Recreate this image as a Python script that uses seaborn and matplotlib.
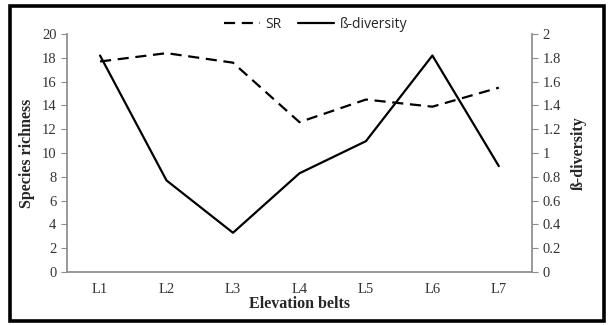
import matplotlib
matplotlib.use("Agg")
import matplotlib.pyplot as plt
import seaborn as sns
import pandas as pd
from matplotlib.patches import Rectangle
from matplotlib.lines import Line2D

# Elevation belts and the two measured series
belts = ["L1", "L2", "L3", "L4", "L5", "L6", "L7"]
species_richness = [17.7, 18.4, 17.6, 12.6, 14.5, 13.9, 15.5]
beta_diversity = [1.82, 0.77, 0.33, 0.83, 1.10, 1.82, 0.89]

left_ticks = [0, 2, 4, 6, 8, 10, 12, 14, 16, 18, 20]
right_ticks = [0, 0.2, 0.4, 0.6, 0.8, 1.0, 1.2, 1.4, 1.6, 1.8, 2.0]
right_tick_labels = ["0", "0.2", "0.4", "0.6", "0.8", "1", "1.2", "1.4", "1.6", "1.8", "2"]

df = pd.DataFrame({"belt": belts, "pos": range(len(belts)),
                   "SR": species_richness, "beta": beta_diversity})

sns.set_theme(style="white")
plt.rcParams["font.family"] = ["Liberation Serif", "DejaVu Serif"]

fig = plt.figure(figsize=(6.13, 3.25), dpi=100)
ax = fig.add_axes([0.109, 0.163, 0.759, 0.732])
ax2 = ax.twinx()

sns.lineplot(data=df, x="pos", y="SR", ax=ax, color="black", linewidth=1.6,
             linestyle=(0, (5, 3)))
sns.lineplot(data=df, x="pos", y="beta", ax=ax2, color="black", linewidth=1.6)

spine_col = "#8c8c8c"
for a in (ax, ax2):
    for s in a.spines.values():
        s.set_visible(False)
    a.set_xlim(-0.5, len(belts) - 0.5)
    a.tick_params(colors=spine_col, length=4, width=0.8, labelcolor="#333333",
                  labelsize=10.5, direction="out")
ax.spines["left"].set_visible(True)
ax.spines["left"].set_color(spine_col)
ax.spines["bottom"].set_visible(True)
ax.spines["bottom"].set_color(spine_col)
ax2.spines["right"].set_visible(True)
ax2.spines["right"].set_color(spine_col)

ax.set_ylim(0, 20)
ax.set_yticks(left_ticks)
ax2.set_ylim(0, 2)
ax2.set_yticks(right_ticks)
ax2.set_yticklabels(right_tick_labels)

# category labels centred in each belt, tick marks on the belt boundaries
ax.set_xticks(range(len(belts)))
ax.set_xticklabels(belts)
ax.tick_params(axis="x", length=0, pad=8)
ax.set_xticks([i - 0.5 for i in range(len(belts) + 1)], minor=True)
ax.tick_params(axis="x", which="minor", length=4, color=spine_col, width=0.8,
               direction="out")

ax.set_xlabel("Elevation belts", fontsize=11.5, fontweight="bold", labelpad=0)
ax.set_ylabel("Species richness", fontsize=11.5, fontweight="bold", labelpad=5)
ax2.set_ylabel("ß-diversity", fontsize=11.5, fontweight="bold", labelpad=7)

handles = [Line2D([], [], color="black", linewidth=1.6, linestyle=(0, (5, 3))),
           Line2D([], [], color="black", linewidth=1.6)]
fig.legend(handles, ["SR", "ß-diversity"], loc="center", ncol=2,
           bbox_to_anchor=(0.515, 0.925), frameon=False,
           prop={"family": "Open Sans", "size": 10}, handlelength=2.6,
           columnspacing=1.2, handletextpad=0.4)

# black frame around the whole chart
fig.patches.append(Rectangle((0.016, 0.013), 0.969, 0.97, transform=fig.transFigure,
                             fill=False, edgecolor="black", linewidth=2.6))

fig.savefig("out.png", dpi=100)
